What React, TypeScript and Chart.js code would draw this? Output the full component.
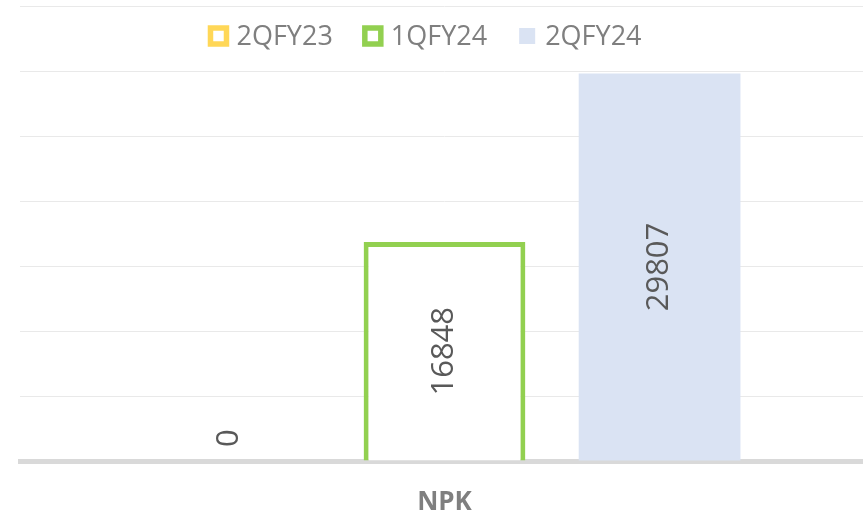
import React, { useEffect, useRef } from "react";
import { Chart, registerables } from "chart.js";

Chart.register(...registerables);

const categories = ["NPK"];
const seriesNames = ["2QFY23", "1QFY24", "2QFY24"];
const values2QFY23 = [0];
const values1QFY24 = [16848];
const values2QFY24 = [29807];
const yMin = 0;
const yMax = 35000;
const yStep = 5000;

const FONT = '"Open Sans", "Liberation Sans", sans-serif';

const topLegend = {
  id: "topLegend",
  afterDraw(chart: any, _args: any, opts: any) {
    const ctx = chart.ctx;
    const box = 16;
    const gapText = 10;
    const gapItem = 32;
    ctx.save();
    ctx.font = `27px ${FONT}`;
    const items = chart.data.datasets.map((ds: any) => ({
      ds,
      w: ctx.measureText(ds.label).width,
    }));
    const total =
      items.reduce((s: number, i: any) => s + box + gapText + i.w, 0) +
      gapItem * (items.length - 1);
    let x = opts.centerX - total / 2;
    const cy = opts.y;
    for (const it of items) {
      const ds = it.ds;
      const top = cy - box / 2;
      if (ds.borderWidth > 0) {
        ctx.fillStyle = "#ffffff";
        ctx.fillRect(x, top, box, box);
        ctx.lineWidth = 5.5;
        ctx.strokeStyle = ds.borderColor;
        ctx.strokeRect(x, top, box, box);
      } else {
        ctx.fillStyle = ds.backgroundColor;
        ctx.fillRect(x, top, box, box);
      }
      x += box + gapText;
      ctx.fillStyle = "#7f7f7f";
      ctx.textAlign = "left";
      ctx.textBaseline = "middle";
      ctx.fillText(ds.label, x, cy + 1);
      x += it.w + gapItem;
    }
    ctx.restore();
  },
};

const barLabels = {
  id: "barLabels",
  afterDatasetsDraw(chart: any) {
    const ctx = chart.ctx;
    ctx.save();
    ctx.font = `31px ${FONT}`;
    ctx.fillStyle = "#595959";
    chart.data.datasets.forEach((ds: any, di: number) => {
      const meta = chart.getDatasetMeta(di);
      meta.data.forEach((el: any, i: number) => {
        const v = ds.data[i];
        const { x, y, base } = el.getProps(["x", "y", "base"], true);
        ctx.save();
        if (v === 0) {
          ctx.translate(x, base - 14);
          ctx.rotate(-Math.PI / 2);
          ctx.textAlign = "left";
          ctx.textBaseline = "middle";
          ctx.fillText(String(v), 0, 0);
        } else {
          ctx.translate(x, (y + base) / 2);
          ctx.rotate(-Math.PI / 2);
          ctx.textAlign = "center";
          ctx.textBaseline = "middle";
          ctx.fillText(String(v), 0, 0);
        }
        ctx.restore();
      });
    });
    ctx.restore();
  },
};

export default function App() {
  const ref = useRef<HTMLCanvasElement | null>(null);

  useEffect(() => {
    document.body.style.margin = "0";
    const canvas = ref.current;
    if (!canvas) return;
    const chart = new Chart(canvas, {
      type: "bar",
      data: {
        labels: categories,
        datasets: [
          {
            label: seriesNames[0],
            data: values2QFY23,
            backgroundColor: "#ffffff",
            borderColor: "#FFD757",
            borderWidth: 5,
            borderSkipped: "start",
          },
          {
            label: seriesNames[1],
            data: values1QFY24,
            backgroundColor: "#ffffff",
            borderColor: "#92D050",
            borderWidth: 5,
            borderSkipped: "start",
          },
          {
            label: seriesNames[2],
            data: values2QFY24,
            backgroundColor: "#DAE3F3",
            borderColor: "#DAE3F3",
            borderWidth: 0,
          },
        ],
      },
      options: {
        responsive: false,
        animation: false,
        devicePixelRatio: 1,
        layout: { padding: { left: 20, right: 0, top: 6, bottom: 0 } },
        datasets: {
          bar: { categoryPercentage: 0.76, barPercentage: 0.752 },
        },
        plugins: {
          legend: { display: false },
          tooltip: { enabled: false },
          topLegend: { centerX: 426, y: 36 },
        } as any,
        scales: {
          x: {
            z: 1,
            grid: { display: false, drawTicks: false },
            border: { display: true, color: "#d9d9d9", width: 5 },
            ticks: {
              color: "#7f7f7f",
              padding: 26,
              font: { family: FONT, size: 26, weight: "bold" },
            },
            afterFit: (scale: any) => {
              scale.height = 58;
            },
          },
          y: {
            min: yMin,
            max: yMax,
            grid: { color: "#e9e9e9", lineWidth: 1, drawTicks: false },
            border: { display: false },
            ticks: { display: false, stepSize: yStep },
          },
        },
      },
      plugins: [topLegend, barLabels],
    });
    return () => chart.destroy();
  }, []);

  return (
    <div style={{ width: 863, height: 519, overflow: "hidden", position: "relative" }}>
      <canvas ref={ref} width={869} height={519} style={{ display: "block" }} />
    </div>
  );
}
